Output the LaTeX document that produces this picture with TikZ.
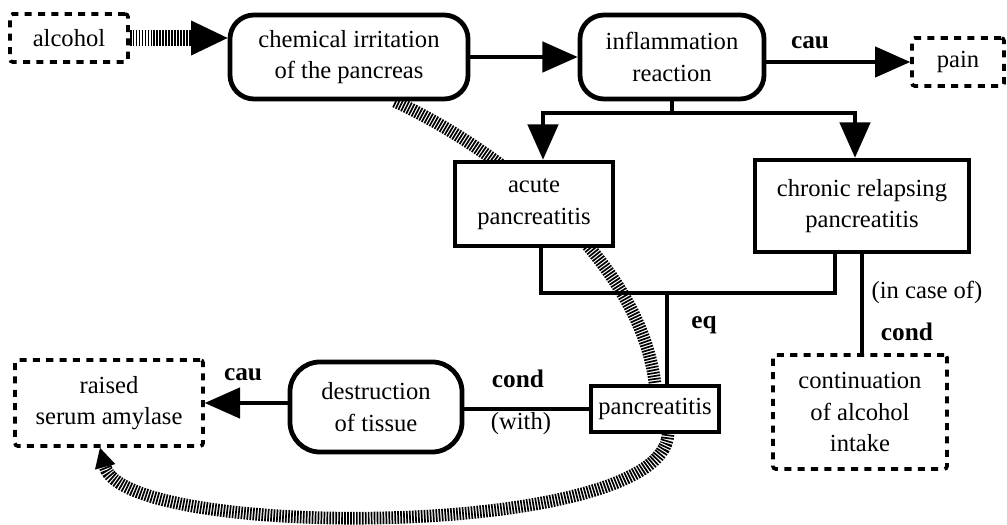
\documentclass[tikz,border=0pt]{standalone}
\usepackage{fontspec}
\setmainfont{Liberation Serif}
\usetikzlibrary{calc}
\usetikzlibrary{positioning}
\usetikzlibrary{arrows.meta}
\usetikzlibrary{backgrounds}
\tikzstyle{textbox} = [draw, fill=white, line width=3.4pt, align=center, inner sep=2pt, font=\fontsize{17.5}{22.5}\selectfont]
\tikzstyle{roundbox} = [textbox, rounded corners=0.6cm]
\tikzstyle{plainbox} = [textbox]
\tikzstyle{dashbox} = [textbox, line width=2.6pt, dash pattern=on 5pt off 4.5pt, rounded corners=2pt]
\tikzstyle{link} = [draw, line width=3pt]
\tikzstyle{arrowlink} = [link, -{Triangle[length=25pt, width=22pt, line width=1pt]}]
\tikzstyle{hatched} = [draw, line width=9pt, dash pattern=on 1.2pt off 0.9pt]
\tikzstyle{rel} = [font=\bfseries\fontsize{18}{20}\selectfont]
\tikzstyle{aside} = [font=\fontsize{17.5}{20}\selectfont]

\begin{document}
\begin{tikzpicture}[x=0.025cm, y=-0.025cm]
    \useasboundingbox (0,0) rectangle (1007,525);

    \node[dashbox, minimum width=2.95cm, minimum height=1.2cm](alcohol) at (69,38) {alcohol};
    \node[roundbox, minimum width=5.95cm, minimum height=2.1cm](irritation) at (349,57) {chemical irritation\\of the pancreas};
    \node[roundbox, minimum width=4.6cm, minimum height=2.1cm](inflammation) at (672,57) {inflammation\\reaction};
    \node[dashbox, minimum width=2.3cm, minimum height=1.2cm](pain) at (958,62) {pain};
    \node[plainbox, minimum width=3.95cm, minimum height=2.1cm](acute) at (534,204) {acute\\pancreatitis};
    \node[plainbox, minimum width=5.35cm, minimum height=2.3cm](chronic) at (862,206) {chronic relapsing\\pancreatitis};
    \node[plainbox, minimum width=3.2cm, minimum height=1.15cm](pancreatitis) at (655,409) {pancreatitis};
    \node[dashbox, minimum width=4.35cm, minimum height=2.85cm](continuation) at (860,412) {continuation\\of alcohol\\intake};
    \node[roundbox, minimum width=4.3cm, minimum height=2.25cm, rounded corners=0.75cm](destruction) at (376,407) {destruction\\of tissue};
    \node[dashbox, minimum width=4.7cm, minimum height=2.15cm](amylase) at (109,403) {raised\\serum amylase};

    \node[rel](caupain) at (810,43) {cau};
    \node[rel](eq) at (704,325) {eq};
    \node[aside](incase) at (927,292) {(in case of)};
    \node[rel](condintake) at (907,332) {cond};
    \node[rel](condwith) at (518,379) {cond};
    \node[aside](with) at (521,424) {(with)};
    \node[rel](cauamylase) at (243,375) {cau};

    \coordinate (fork) at (672,113);
    \coordinate (join) at (667,293);

    % hatched connectors
    \begin{scope}[on background layer]
        \draw[hatched, line width=11pt, -{Triangle[length=26pt, width=25pt, line width=0pt]}] (alcohol.east) -- (alcohol.east -| irritation.west);
        \draw[hatched] ($(irritation.south)+(46,0)$) .. controls (500,150) and (640,260) .. (pancreatitis.north);
        \draw[hatched, -{Triangle[length=14pt, width=15pt, line width=0pt]}] ($(pancreatitis.south)+(13,0)$) .. controls (662,540) and (125,540) .. ($(amylase.south)+(-9,0)$);
    \end{scope}

    \draw[arrowlink] (irritation.east |- inflammation) -- (inflammation.west);
    \draw[arrowlink] (inflammation.east |- pain) -- (pain.west);
    \draw[link] (inflammation.south) -- (fork);
    \draw[arrowlink] (fork) -| ($(acute.north)+(9,0)$);
    \draw[arrowlink] (fork) -| ($(chronic.north)+(-7,0)$);
    \draw[link] ($(acute.south)+(7,0)$) |- (join) -| ($(chronic.south)+(-27,0)$);
    \draw[link] (join) -- (join |- pancreatitis.north);
    \draw[link] (chronic.south) -- (chronic.south |- continuation.north);
    \draw[link] (pancreatitis.west) -- (pancreatitis.west -| destruction.east);
    \draw[arrowlink] (destruction.west |- amylase) -- (amylase.east);
\end{tikzpicture}
\end{document}
